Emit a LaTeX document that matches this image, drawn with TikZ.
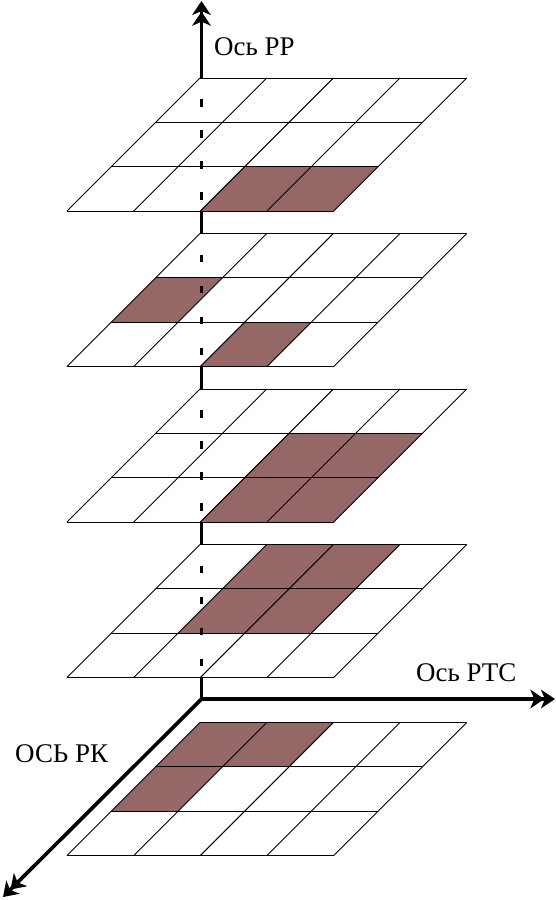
\documentclass[tikz,border=0pt]{standalone}
\usepackage{fontspec}
\setmainfont{Liberation Serif}
\usetikzlibrary{arrows.meta}

\definecolor{cellfill}{RGB}{149,103,103}

% one layer of the stack: #1 = top edge (px), #2 = filled cells col/row
\newcommand{\layer}[2]{%
  \begin{scope}[shift={(200,#1)}]
    \fill[white] (0,0) -- (266.7,0) -- (133.7,133) -- (-133,133) -- cycle;
    \foreach \c/\r in {#2}
      \fill[cellfill] (66.67*\c-44.33*\r,44.33*\r) -- ++(66.67,0) -- ++(-44.33,44.33) -- ++(-66.67,0) -- cycle;
    \foreach \r in {0,...,3}
      \draw[gridline] (-44.33*\r,44.33*\r) -- ++(266.7,0);
    \foreach \c in {0,...,4}
      \draw[gridline] (66.67*\c,0) -- ++(-133,133);
  \end{scope}}

\begin{document}
\begin{tikzpicture}[x=0.3mm,y=-0.3mm,
    gridline/.style={line width=0.8pt,black},
    axis/.style={line width=1.1mm,line cap=butt,
      -{Stealth[length=4.2mm,width=5.6mm,inset=1.2mm,sep=-1mm]Stealth[length=4.2mm,width=5.6mm,inset=1.2mm]}},
    hidden/.style={line width=1.1mm,dash pattern=on 2.3mm off 7mm},
    axislabel/.style={inner sep=0pt,anchor=base west,font=\fontsize{23pt}{27pt}\selectfont}]
    \useasboundingbox (0,0) rectangle (555,900);

    \coordinate (O) at (201.5,699);
    \coordinate (ppEnd) at (201.5,1);
    \coordinate (ptcEnd) at (555,699);
    \coordinate (rkEnd) at (3,897);

    \draw[axis] (O) -- (ppEnd);

    \layer{78}{2/2,3/2}
    \draw[hidden] (201.5,99) -- (201.5,206);
    \layer{233.5}{0/1,2/2}
    \draw[hidden] (201.5,254.5) -- (201.5,361.5);
    \layer{389}{2/1,3/1,2/2,3/2}
    \draw[hidden] (201.5,410) -- (201.5,517);
    \layer{544.5}{1/0,2/0,1/1,2/1}
    \draw[hidden] (201.5,565.5) -- (201.5,672.5);

    \draw[axis] (O) -- (ptcEnd);
    \draw[axis] (O) -- (rkEnd);

    \layer{722.5}{0/0,1/0,0/1}

    \node[axislabel] (ppLabel) at (214,55) {Ось РР};
    \node[axislabel] (ptcLabel) at (416,681) {Ось РТС};
    \node[axislabel] (rkLabel) at (15,762) {ОСЬ РК};
\end{tikzpicture}
\end{document}
